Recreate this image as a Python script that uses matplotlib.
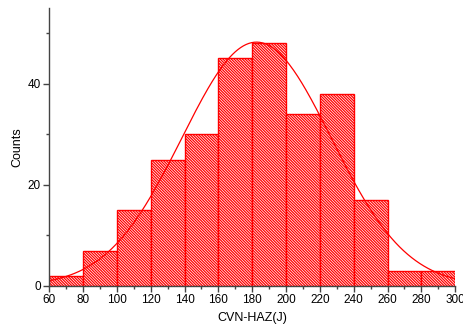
import numpy as np
import matplotlib
matplotlib.use("Agg")
import matplotlib.pyplot as plt
from matplotlib.ticker import MultipleLocator

plt.rcParams['font.family'] = ['Liberation Sans', 'DejaVu Sans']
plt.rcParams['hatch.color'] = 'red'
plt.rcParams['hatch.linewidth'] = 0.9

# histogram data
bin_edges = [60, 80, 100, 120, 140, 160, 180, 200, 220, 240, 260, 280, 300]
counts = [2, 7, 15, 25, 30, 45, 48, 34, 38, 17, 3, 3]

edges = np.array(bin_edges, dtype=float)
cnt = np.array(counts, dtype=float)
centers = (edges[:-1] + edges[1:]) / 2
width = edges[1] - edges[0]

fig = plt.figure(figsize=(4.64, 3.29), dpi=100)
ax = fig.add_axes([0.106, 0.131, 0.875, 0.845])

ax.bar(edges[:-1], cnt, width=width, align='edge', facecolor='white',
       edgecolor='red', hatch='\\' * 12, linewidth=1.0)

# normal fit from the binned data
n = cnt.sum()
mu = (cnt * centers).sum() / n
sd = np.sqrt((cnt * (centers - mu) ** 2).sum() / n)
xs = np.linspace(60, 300, 300)
ys = n * width / (sd * np.sqrt(2 * np.pi)) * np.exp(-0.5 * ((xs - mu) / sd) ** 2)
ax.plot(xs, ys, color='red', linewidth=0.9)

ax.set_xlim(60, 300)
ax.set_ylim(0, 55)
ax.xaxis.set_major_locator(MultipleLocator(20))
ax.xaxis.set_minor_locator(MultipleLocator(10))
ax.yaxis.set_major_locator(MultipleLocator(20))
ax.yaxis.set_minor_locator(MultipleLocator(10))
for s in ['top', 'right']:
    ax.spines[s].set_visible(False)
for s in ['left', 'bottom']:
    ax.spines[s].set_color('#444444')
    ax.spines[s].set_linewidth(1.0)
ax.tick_params(which='major', direction='out', length=4, width=1, color='#444444', labelsize=8.5, pad=2)
ax.tick_params(which='minor', direction='out', length=2, width=1, color='#444444')
ax.set_xlabel('CVN-HAZ(J)', fontsize=9, labelpad=4)
ax.set_ylabel('Counts', fontsize=9, labelpad=3)

fig.savefig('out.png', dpi=100)
